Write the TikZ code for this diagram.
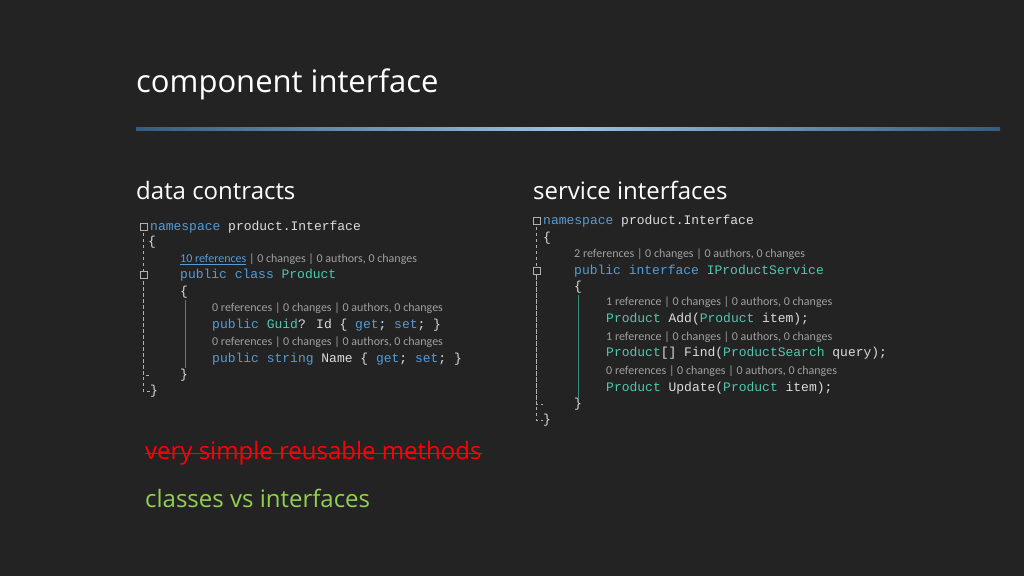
\documentclass[tikz,border=0pt]{standalone}
\usepackage{fontspec}
\setmainfont{Open Sans}
\newfontfamily\codefont{Liberation Mono}
\newfontfamily\lensfont{Carlito}
\usetikzlibrary{calc}
\definecolor{board}{HTML}{232323}
\definecolor{kwblue}{HTML}{569CD6}
\definecolor{tyteal}{HTML}{4EC9B0}
\definecolor{plain}{HTML}{DCDCDC}
\definecolor{lensgray}{HTML}{A0A0A0}
\definecolor{guide}{HTML}{B0B0B0}
\definecolor{chalkgreen}{HTML}{92D050}
\newcommand{\kw}[1]{\textcolor{kwblue}{#1}}
\newcommand{\ty}[1]{\textcolor{tyteal}{#1}}
\begin{document}
\begin{tikzpicture}[x=1pt,y=-1pt,
    every node/.style={anchor=west,inner sep=0pt},
    heading/.style={font=\fontsize{24}{28}\selectfont,text=white},
    code/.style={font=\codefont\fontsize{13}{15}\selectfont,text=plain},
    lens/.style={font=\lensfont\fontsize{12}{14}\selectfont,text=lensgray},
    bullet/.style={font=\fontsize{24}{28}\selectfont},
    fold/.style={draw=guide,line width=0.6pt,minimum size=7pt,fill=board}]

    \fill[board] (0,0) rectangle (1024,576);
    \useasboundingbox (0,0) rectangle (1024,576);

    % title
    \node[font=\fontsize{31}{36}\selectfont,text=white] (title) at (136,84) {component interface};
    \shade[left color=kwblue!60!black,right color=kwblue!60!black,middle color=kwblue!60!white] (136,127.5) rectangle (1000,130.5);

    \node[heading] (hdata) at (136,190) {data contracts};
    \node[heading] (hserv) at (533,190) {service interfaces};

    % data contracts code
    \draw[guide,dashed] (143,233) -- (143,391) -- (150,391);
    \draw[guide,dashed] (143,282) -- (143,375) -- (150,375);
    \draw[tyteal!70!black,line width=0.8pt] (185,300) -- (185,368);
    \node[fold] (fa1) at (139.5,227) {};
    \node[fold] (fa2) at (139.5,275) {};
    \node[code] (la1) at (150,227) {\kw{namespace} product.Interface};
    \node[code] (la2) at (148,242) {\{};
    \node[lens] (la3) at (180,259) {\textcolor{kwblue}{\underline{10 references}} | 0 changes | 0 authors, 0 changes};
    \node[code] (la4) at (180,275) {\kw{public class} \ty{Product}};
    \node[code] (la5) at (180,292) {\{};
    \node[lens] (la6) at (212,308) {0 references | 0 changes | 0 authors, 0 changes};
    \node[code] (la7) at (212,325) {\kw{public} \ty{Guid}? Id \{ \kw{get}; \kw{set}; \}};
    \node[lens] (la8) at (212,342) {0 references | 0 changes | 0 authors, 0 changes};
    \node[code] (la9) at (212,359) {\kw{public string} Name \{ \kw{get}; \kw{set}; \}};
    \node[code] (la10) at (180,375) {\}};
    \node[code] (la11) at (150,391) {\}};

    % service interfaces code
    \draw[guide,dashed] (536,227) -- (536,420) -- (543,420);
    \draw[guide,dashed] (536,277) -- (536,404) -- (543,404);
    \draw[tyteal!70!black,line width=0.8pt] (578,295) -- (578,398);
    \node[fold] (fb1) at (532.5,221) {};
    \node[fold] (fb2) at (532.5,271) {};
    \node[code] (lb1) at (543,221) {\kw{namespace} product.Interface};
    \node[code] (lb2) at (543,238) {\{};
    \node[lens] (lb3) at (574,254) {2 references | 0 changes | 0 authors, 0 changes};
    \node[code] (lb4) at (574,271) {\kw{public interface} \ty{IProductService}};
    \node[code] (lb5) at (574,287) {\{};
    \node[lens] (lb6) at (606,302) {1 reference | 0 changes | 0 authors, 0 changes};
    \node[code] (lb7) at (606,319) {\ty{Product} Add(\ty{Product} item);};
    \node[lens] (lb8) at (606,337) {1 reference | 0 changes | 0 authors, 0 changes};
    \node[code] (lb9) at (606,353) {\ty{Product}[] Find(\ty{ProductSearch} query);};
    \node[lens] (lb10) at (606,371) {0 references | 0 changes | 0 authors, 0 changes};
    \node[code] (lb11) at (606,388) {\ty{Product} Update(\ty{Product} item);};
    \node[code] (lb12) at (574,404) {\}};
    \node[code] (lb13) at (543,420) {\}};

    % bullets
    \node[bullet,text=red] (simple) at (145,453) {very simple reusable methods};
    \draw[red,line width=0.9pt] (simple.west) -- (simple.east);
    \node[bullet,text=chalkgreen] (classes) at (145,498) {classes vs interfaces};
\end{tikzpicture}
\end{document}
